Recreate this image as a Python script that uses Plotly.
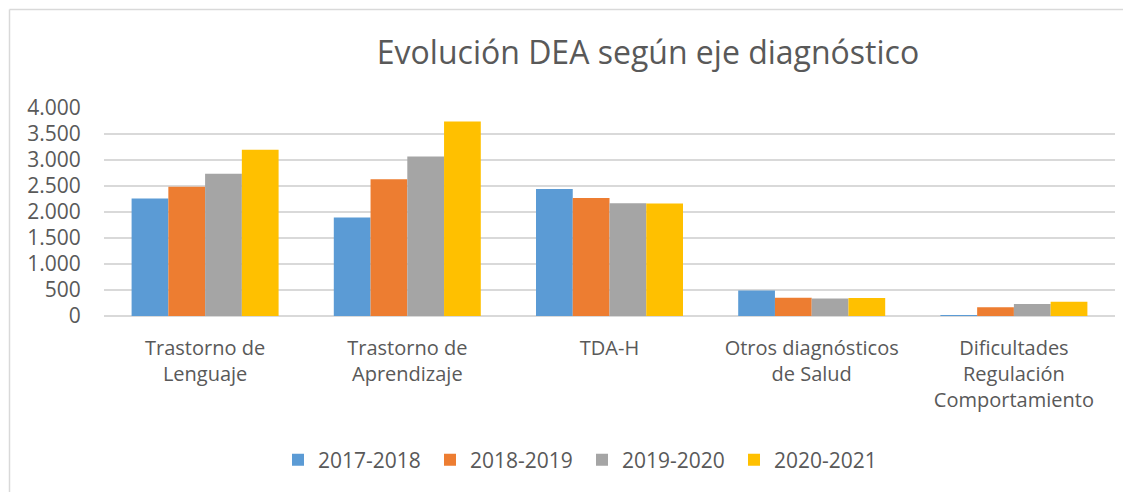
import plotly.graph_objects as go

categories = ["Trastorno de<br>Lenguaje", "Trastorno de<br>Aprendizaje", "TDA-H",
              "Otros diagnósticos<br>de Salud", "Dificultades<br>Regulación<br>Comportamiento"]
series_names = ["2017-2018", "2018-2019", "2019-2020", "2020-2021"]
v_2017_2018 = [2262, 1895, 2444, 491, 6]
v_2018_2019 = [2485, 2629, 2271, 351, 168]
v_2019_2020 = [2735, 3069, 2169, 338, 232]
v_2020_2021 = [3198, 3739, 2163, 345, 276]
y_ticks = [0, 500, 1000, 1500, 2000, 2500, 3000, 3500, 4000]
y_tick_labels = ["0", "500", "1.000", "1.500", "2.000", "2.500", "3.000", "3.500", "4.000"]

colors = ["#5B9BD5", "#ED7D31", "#A5A5A5", "#FFC000"]
values = [v_2017_2018, v_2018_2019, v_2019_2020, v_2020_2021]

OFF = 8  # page body margin
W, H = 1131 - OFF, 492 - OFF
ML, MR, MT, MB = 96, 16, 100, 176
FONT = "Open Sans"
TXT = "#595959"
GRID = "#D9D9D9"

fig = go.Figure()
for name, vals, col in zip(series_names, values, colors):
    fig.add_trace(go.Bar(name=name, x=categories, y=vals,
                         marker=dict(color=col, line=dict(width=0))))

pw = W - ML - MR
ph = H - MT - MB
def px_x(p):
    return (p - OFF - ML) / pw
def px_y(p):
    return (H - MB - (p - OFF)) / ph

fig.update_layout(
    width=W, height=H,
    margin=dict(l=ML, r=MR, t=MT, b=MB, autoexpand=False),
    paper_bgcolor="white", plot_bgcolor="white",
    barmode="group", bargap=0.273, bargroupgap=0,
    font=dict(family=FONT, color=TXT, size=20),
    title=dict(text="Evolución DEA según eje diagnóstico", x=(648 - OFF) / W, xanchor="center",
               y=1 - (52.3 - OFF) / H, yanchor="middle",
               font=dict(size=32, color=TXT, family=FONT)),
    xaxis=dict(showgrid=False, showline=False, ticks="", tickfont=dict(size=20, color=TXT),
               ticklabelstandoff=18),
    yaxis=dict(range=[0, 4000], tickvals=y_ticks, ticktext=y_tick_labels, showgrid=True,
               gridcolor=GRID, gridwidth=1.5, zeroline=True, zerolinecolor=GRID,
               zerolinewidth=1.5, showline=False, ticks="outside", ticklen=18,
               tickcolor="rgba(0,0,0,0)", tickfont=dict(size=21, color=TXT)),
    legend=dict(orientation="h", x=px_x(292 - 14), xanchor="left", y=px_y(460), yanchor="middle",
                font=dict(size=21, color=TXT), itemwidth=30, traceorder="normal",
                entrywidth=107, entrywidthmode="pixels"),
    shapes=[
        dict(type="line", xref="paper", yref="paper", x0=px_x(9.5), x1=px_x(1140),
             y0=px_y(9.5), y1=px_y(9.5), line=dict(color=GRID, width=1.5)),
        dict(type="line", xref="paper", yref="paper", x0=px_x(9.5), x1=px_x(9.5),
             y0=px_y(9.5), y1=px_y(500), line=dict(color=GRID, width=1.5)),
    ],
)

fig.write_html("out.html")
